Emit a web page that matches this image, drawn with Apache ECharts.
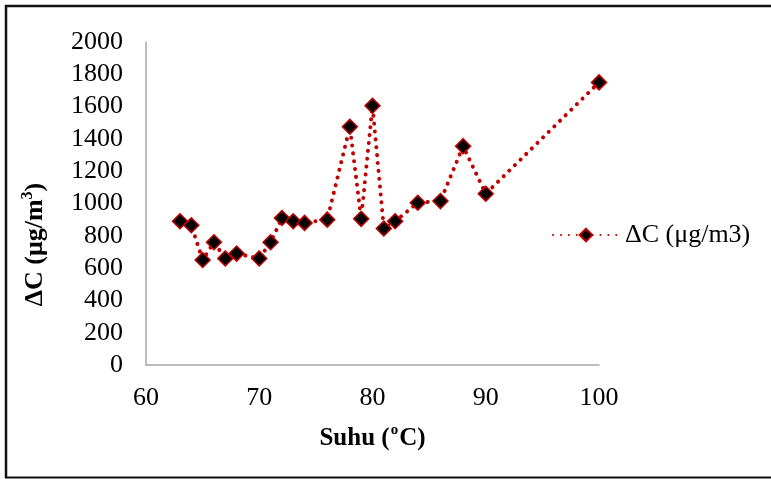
<!DOCTYPE html>
<html>
<head>
<meta charset="utf-8">
<script src="https://cdn.jsdelivr.net/npm/echarts@6/dist/echarts.min.js"></script>
<style>
  html, body { margin: 0; padding: 0; background: #fff; }
  #chart { width: 771px; height: 479px; }
</style>
</head>
<body>
<div id="chart"></div>
<script>
// Temperature (°C) readings and the concentration change measured at each
const suhu = [63, 64, 65, 66, 67, 68, 70, 71, 72, 73, 74, 76, 78, 79, 80, 81, 82, 84, 86, 88, 90, 100];
const deltaC = [890, 865, 650, 760, 660, 690, 660, 760, 910, 890, 880, 900, 1475, 905, 1605, 845, 890, 1005, 1015, 1355, 1060, 1750];
const seriesName = 'ΔC (μg/m3)';
const xTicks = { min: 60, max: 100, interval: 10 };
const yTicks = { min: 0, max: 2000, interval: 200 };

const serif = '"Liberation Serif", "Times New Roman", serif';
const red = '#c00000';
const plain = v => String(v);

const chart = echarts.init(document.getElementById('chart'), null, { renderer: 'canvas' });

chart.setOption({
  backgroundColor: '#ffffff',
  animation: false,
  textStyle: { fontFamily: serif, color: '#000' },
  grid: { left: 146, right: 172, top: 42, bottom: 114, containLabel: false },
  legend: {
    data: [seriesName],
    left: 547,
    top: 217,
    itemWidth: 66,
    itemHeight: 16,
    itemGap: 0,
    textStyle: { fontFamily: serif, fontSize: 26, color: '#000', padding: [0, 0, 0, 1] }
  },
  xAxis: {
    type: 'value',
    min: xTicks.min,
    max: xTicks.max,
    interval: xTicks.interval,
    axisLine: { show: true, lineStyle: { color: '#a6a6a6', width: 1.5 } },
    axisTick: { show: false },
    splitLine: { show: false },
    axisLabel: { fontFamily: serif, fontSize: 26, color: '#000', margin: 20, formatter: plain },
    name: '{b|Suhu (}{s|o}{b|C)}',
    nameLocation: 'middle',
    nameGap: 58,
    nameTextStyle: {
      rich: {
        b: { fontFamily: serif, fontSize: 25, fontWeight: 'bold', color: '#000', lineHeight: 28, verticalAlign: 'bottom' },
        s: { fontFamily: serif, fontSize: 15, fontWeight: 'bold', color: '#000', lineHeight: 28, verticalAlign: 'top', padding: [0, 1, 0, 1] }
      }
    }
  },
  yAxis: {
    type: 'value',
    min: yTicks.min,
    max: yTicks.max,
    interval: yTicks.interval,
    axisLine: { show: true, lineStyle: { color: '#a6a6a6', width: 1.5 } },
    axisTick: { show: false },
    splitLine: { show: false },
    axisLabel: { fontFamily: serif, fontSize: 26, color: '#000', margin: 23, formatter: plain },
    name: '{b|ΔC (μg/m}{s|3}{b|)}',
    nameLocation: 'middle',
    nameGap: 98,
    nameTextStyle: {
      // extra right padding moves the rotated title down along the axis
      padding: [0, 82, 0, 0],
      rich: {
        b: { fontFamily: serif, fontSize: 26, fontWeight: 'bold', color: '#000', lineHeight: 28, verticalAlign: 'bottom' },
        s: { fontFamily: serif, fontSize: 16, fontWeight: 'bold', color: '#000', lineHeight: 28, verticalAlign: 'top' }
      }
    }
  },
  series: [{
    name: seriesName,
    type: 'line',
    data: suhu.map((t, i) => [t, deltaC[i]]),
    symbol: 'diamond',
    symbolSize: 15,
    itemStyle: { color: '#000', borderColor: red, borderWidth: 1.5 },
    lineStyle: { color: red, width: 4, type: [0.1, 7.8], cap: 'round' },
    z: 3
  }],
  graphic: [
    // outer frame: top, left and bottom edges
    { type: 'line', shape: { x1: 5, y1: 6, x2: 771, y2: 6 }, style: { stroke: '#111', lineWidth: 2.5 } },
    { type: 'line', shape: { x1: 6, y1: 5, x2: 6, y2: 478 }, style: { stroke: '#111', lineWidth: 2.5 } },
    { type: 'line', shape: { x1: 5, y1: 477.5, x2: 771, y2: 477.5 }, style: { stroke: '#111', lineWidth: 2 } }
  ]
});
</script>
</body>
</html>
